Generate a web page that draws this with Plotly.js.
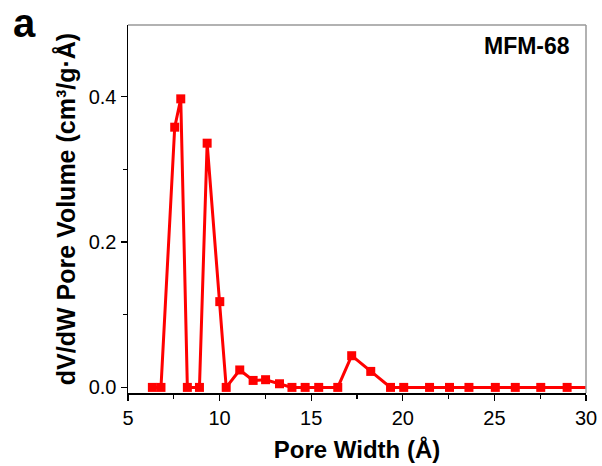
<!DOCTYPE html>
<html>
<head>
<meta charset="utf-8">
<script src="https://cdn.plot.ly/plotly-3.0.1.min.js"></script>
<style>html,body{margin:0;padding:0;background:#fff;}#chart{width:602px;height:466px;}</style>
</head>
<body>
<div id="chart"></div>
<script>
// Pore width (Å)
const poreWidth = [6.33, 6.8, 7.55, 7.88, 8.24, 8.9, 9.32, 10.01, 10.36, 11.1, 11.83, 12.51, 13.27, 13.95, 14.67, 15.41, 16.45, 17.21, 18.25, 19.33, 20.05, 21.46, 22.55, 23.61, 25.05, 26.14, 27.53, 28.97, 30.4];
// dV/dW pore volume (cm³/g·Å)
const poreVolume = [0, 0, 0.358, 0.397, 0, 0, 0.336, 0.118, 0, 0.024, 0.0096, 0.0106, 0.005, 0, 0, 0, 0, 0.0436, 0.022, 0, 0, 0, 0, 0, 0, 0, 0, 0, 0];
const xTicks = [5, 10, 15, 20, 25, 30];
const yTicks = [0.0, 0.2, 0.4];
const yTickText = ['0.0', '0.2', '0.4'];
const sampleName = 'MFM-68';
const panelLabel = 'a';

const trace = {
  x: poreWidth, y: poreVolume, type: 'scatter', mode: 'lines+markers',
  line: {color: '#ff0000', width: 3},
  marker: {symbol: 'square', size: 9, color: '#ff0000'},
  showlegend: false
};

const fontFam = 'Liberation Sans, Arial, sans-serif';
const layout = {
  width: 602, height: 466,
  margin: {l: 128, r: 16, t: 25, b: 73, pad: 0},
  paper_bgcolor: '#fff', plot_bgcolor: '#fff',
  font: {family: fontFam, color: '#000'},
  xaxis: {
    range: [5, 30], tickvals: xTicks, ticktext: xTicks.map(String),
    ticks: 'outside', ticklen: 6, tickwidth: 1.2, tickcolor: '#000',
    minor: {dtick: 2.5, tick0: 5, ticks: 'outside', ticklen: 4, tickwidth: 1.2, tickcolor: '#000'},
    showline: true, linecolor: '#000', linewidth: 1.5, showgrid: false, zeroline: false,
    tickfont: {size: 20, family: fontFam},
    title: {text: '<b>Pore Width (Å)</b>', font: {size: 24, family: fontFam}, standoff: 13}
  },
  yaxis: {
    range: [-0.0077, 0.4986], tickvals: yTicks, ticktext: yTickText,
    ticks: 'outside', ticklen: 6, tickwidth: 1.2, tickcolor: '#000',
    minor: {dtick: 0.1, tick0: 0, ticks: 'outside', ticklen: 4, tickwidth: 1.2, tickcolor: '#000'},
    showline: true, linecolor: '#000', linewidth: 1.5, showgrid: false, zeroline: false,
    tickfont: {size: 20, family: fontFam},
    title: {text: '<b>dV/dW Pore Volume (cm³/g·Å)</b>', font: {size: 25, family: fontFam}, standoff: 6}
  },
  shapes: [
    {type: 'line', xref: 'paper', yref: 'paper', x0: 0, x1: 1, y0: 1, y1: 1, line: {color: '#999', width: 1.5}},
    {type: 'line', xref: 'paper', yref: 'paper', x0: 1, x1: 1, y0: 0, y1: 1, line: {color: '#999', width: 1.5}}
  ],
  annotations: [
    {text: '<b>' + panelLabel + '</b>', xref: 'paper', yref: 'paper', x: -0.226, y: 1.005,
     xanchor: 'center', yanchor: 'middle', showarrow: false, font: {size: 40, family: fontFam}},
    {text: '<b>' + sampleName + '</b>', xref: 'paper', yref: 'paper', x: 0.97, y: 0.943,
     xanchor: 'right', yanchor: 'middle', showarrow: false, font: {size: 23, family: fontFam}}
  ]
};

Plotly.newPlot('chart', [trace], layout, {staticPlot: true, displayModeBar: false});
</script>
</body>
</html>
